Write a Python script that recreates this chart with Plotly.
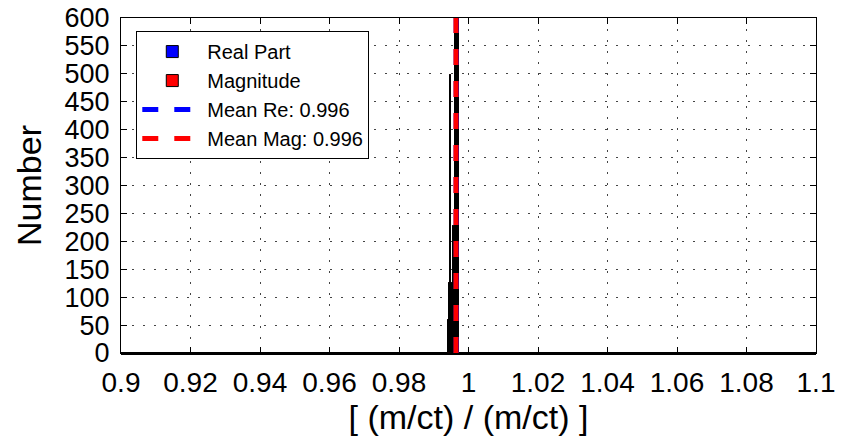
import plotly.graph_objects as go

# histogram bins (bin centres) and counts
bin_centers = [0.99435, 0.99465, 0.99492, 0.99525, 0.99555, 0.99585,
               0.99615, 0.99645, 0.99675, 0.99705]
real_counts = [60, 125, 498, 125, 228, 228, 650, 800, 750, 620]
mag_counts = [60, 125, 498, 125, 228, 228, 650, 800, 750, 620]

mean_re = 0.99645
mean_mag = 0.99640

x_ticks = [0.9, 0.92, 0.94, 0.96, 0.98, 1, 1.02, 1.04, 1.06, 1.08, 1.1]
x_tick_text = ['0.9', '0.92', '0.94', '0.96', '0.98', '1', '1.02', '1.04', '1.06', '1.08', '1.1']
y_ticks = list(range(0, 601, 50))

FONT = 'Liberation Sans, Arial, sans-serif'
bin_width = 0.00026

fig = go.Figure()

fig.add_trace(go.Bar(
    x=bin_centers, y=real_counts, width=bin_width,
    name='Real Part',
    marker=dict(color='#0000ff', line=dict(color='black', width=1))
))
fig.add_trace(go.Bar(
    x=bin_centers, y=mag_counts, width=bin_width,
    name='Magnitude',
    marker=dict(color='#ff0000', line=dict(color='black', width=1))
))
fig.add_trace(go.Scatter(
    x=[mean_re, mean_re], y=[0, 600], mode='lines',
    name=f'Mean Re: {mean_re:.3f}',
    line=dict(color='#0000ff', width=5, dash='16px,16px')
))
fig.add_trace(go.Scatter(
    x=[mean_mag, mean_mag], y=[0, 600], mode='lines',
    name=f'Mean Mag: {mean_mag:.3f}',
    line=dict(color='#ff0000', width=5, dash='16px,16px')
))

fig.update_layout(
    width=851, height=436,
    margin=dict(l=121, r=35, t=18, b=83),
    paper_bgcolor='white', plot_bgcolor='white',
    barmode='overlay', bargap=0,
    font=dict(family=FONT, size=28, color='black'),
    showlegend=True,
    legend=dict(
        x=0.022, y=0.961, xanchor='left', yanchor='top',
        bgcolor='white', bordercolor='black', borderwidth=1,
        font=dict(family=FONT, size=20, color='black'),
        itemwidth=60, tracegroupgap=0,
    ),
)

fig.update_xaxes(
    range=[0.9, 1.1], tickvals=x_ticks, ticktext=x_tick_text,
    automargin=False, ticklabeloverflow='allow',
    showline=True, linecolor='black', linewidth=1, mirror='allticks',
    ticks='inside', ticklen=6, tickcolor='black',
    showgrid=True, gridcolor='#444444', gridwidth=1, griddash='2px,9px',
    zeroline=False,
    ticklabelstandoff=4,
    title=dict(text='[ (m/ct) / (m/ct) ]', standoff=2),
    tickfont=dict(size=28),
)
fig.update_yaxes(
    range=[0, 600], tickvals=y_ticks,
    automargin=False, ticklabeloverflow='allow',
    showline=True, linecolor='black', linewidth=1, mirror='allticks',
    ticks='inside', ticklen=6, tickcolor='black',
    showgrid=True, gridcolor='#444444', gridwidth=1, griddash='2px,9px',
    zeroline=True, zerolinecolor='black', zerolinewidth=3,
    ticklabelstandoff=5,
    title=dict(text='Number', standoff=12),
    tickfont=dict(size=27),
)

# drop the default 8px page margin so the figure fills the window
fig.write_html("out.html", config={'displayModeBar': False},
               post_script="document.body.style.margin = '0';")
